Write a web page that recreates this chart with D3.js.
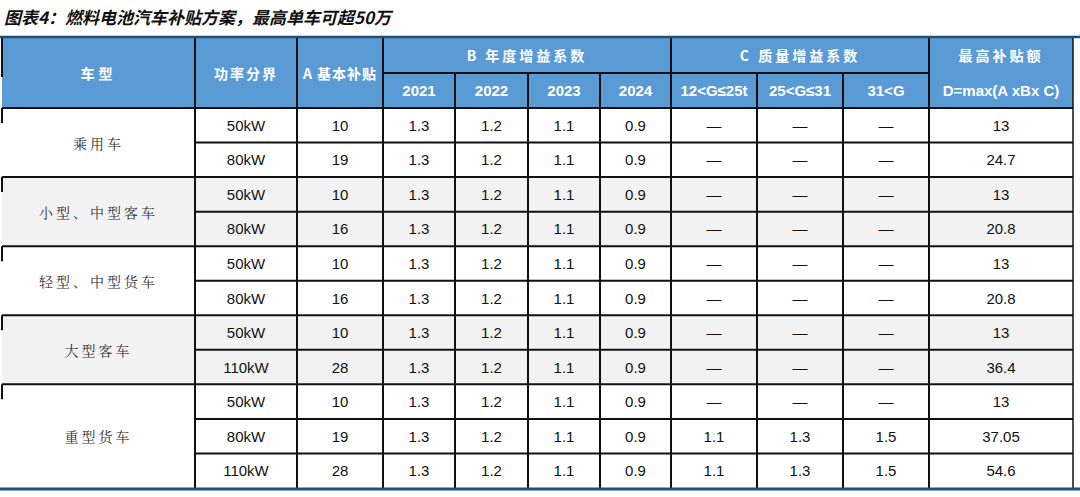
<!DOCTYPE html>
<html><head><meta charset="utf-8">
<script src="https://cdn.jsdelivr.net/npm/d3@7"></script>
<style>body{margin:0;background:#fff}svg{display:block}</style>
</head><body><svg id="c" width="1080" height="497"></svg>
<script>
const title = "图表4：燃料电池汽车补贴方案，最高单车可超50万";
const groups = ["乘用车","小型、中型客车","轻型、中型货车","大型客车","重型货车"];
const groupSizes = [2,2,2,2,3];
const power = ["50kW","80kW","50kW","80kW","50kW","80kW","50kW","110kW","50kW","80kW","110kW"];
const baseA = [10,19,10,16,10,16,10,28,10,19,28];
const years = ["2021","2022","2023","2024"];
const yearCoef = ["1.3","1.2","1.1","0.9"];
const massLabels = ["12<G≤25t","25<G≤31","31<G"];
const massCoef = [null,null,null,null,null,null,null,null,null,["1.1","1.3","1.5"],["1.1","1.3","1.5"]];
const maxD = ["13","24.7","13","20.8","13","20.8","13","36.4","13","37.05","54.6"];

(function(){
const svg = d3.select("#c");
const colEdges = [2,195,297,383,455,528,600,671,757,843,929,1073];
const x = i => colEdges[i];
const yTop = 37, h1 = 73, h2 = 108, bottom = 488;
const y = d3.scaleBand().domain(d3.range(power.length)).range([h2,bottom]);
const blue = "#5b9bd5", line = "#111";
const cjk = "'Noto Sans CJK SC', sans-serif", lat = "Arial, 'Liberation Sans', sans-serif";

svg.append("text").attr("x",4).attr("y",24).attr("font-family",cjk).attr("font-size",17)
  .attr("font-weight","bold").attr("font-style","italic").attr("fill","#111").text(title);

svg.append("rect").attr("x",x(0)).attr("y",yTop).attr("width",x(11)-x(0)).attr("height",h2-yTop).attr("fill",blue);
let start = 0;
const gStarts = groupSizes.map(s => {const r = start; start += s; return r;});
groups.forEach((g,gi)=>{
  const y0 = y(gStarts[gi]), y1 = y(gStarts[gi]+groupSizes[gi]-1)+y.bandwidth();
  svg.append("rect").attr("x",x(0)).attr("y",y0).attr("width",x(11)-x(0)).attr("height",y1-y0)
    .attr("fill", gi%2===1 ? "#f2f2f2" : "#fff");
});

function txt(cx,cy,t,opt={}){
  svg.append("text").attr("x",cx).attr("y",cy).attr("text-anchor","middle").attr("dominant-baseline","central")
    .attr("font-family",opt.f||lat).attr("font-size",opt.s||15).attr("font-weight",opt.w||"normal")
    .attr("fill",opt.c||"#111").attr("letter-spacing",opt.ls||0).text(t);
}
const hw = {c:"#fff",w:"bold"};
txt((x(0)+x(1))/2,(yTop+h2)/2,"车型",{...hw,f:cjk,s:14,ls:4});
txt((x(1)+x(2))/2,(yTop+h2)/2,"功率分界",{...hw,f:cjk,s:14,ls:2});
txt((x(2)+x(3))/2,(yTop+h2)/2,"A 基本补贴",{...hw,f:cjk,s:14,ls:1});
txt((x(3)+x(7))/2,(yTop+h1)/2,"B 年度增益系数",{...hw,f:cjk,s:14,ls:3});
txt((x(7)+x(10))/2,(yTop+h1)/2,"C 质量增益系数",{...hw,f:cjk,s:14,ls:3});
txt((x(10)+x(11))/2,(yTop+h1)/2,"最高补贴额",{...hw,f:cjk,s:14,ls:3});
txt((x(10)+x(11))/2,(h1+h2)/2,"D=max(A xBx C)",{...hw,s:15});
years.forEach((yy,i)=>txt((x(3+i)+x(4+i))/2,(h1+h2)/2,yy,{...hw,s:15}));
massLabels.forEach((m,i)=>txt((x(7+i)+x(8+i))/2,(h1+h2)/2,m,{...hw,s:15}));

power.forEach((p,r)=>{
  const cy = y(r)+y.bandwidth()/2;
  const vals = [p, baseA[r], ...yearCoef, ...(massCoef[r]||["—","—","—"]), maxD[r]];
  vals.forEach((v,i)=>txt((x(1+i)+x(2+i))/2, cy, v, {s:15}));
});
groups.forEach((g,gi)=>{
  const y0 = y(gStarts[gi]), y1 = y(gStarts[gi]+groupSizes[gi]-1)+y.bandwidth();
  txt((x(0)+x(1))/2,(y0+y1)/2,g,{f:"'Noto Serif CJK SC','Noto Sans CJK SC',serif",s:14,ls:3,c:"#333"});
});

const L = (x1,y1,x2,y2,c,w)=>svg.append("line").attr("x1",x1).attr("y1",y1).attr("x2",x2).attr("y2",y2).attr("stroke",c).attr("stroke-width",w);
L(x(3),h1,x(10),h1,line,2);
[1,2,3,7,10].forEach(i=>L(x(i),yTop,x(i),bottom,line,2));
[4,5,6,8,9].forEach(i=>L(x(i),h1,x(i),bottom,line,2));
L(x(11),yTop,x(11),bottom,line,1.5);
L(x(0),h2,x(11),h2,line,2);
d3.range(1,power.length).forEach(r=>{
  const isGroupStart = gStarts.includes(r);
  L(isGroupStart?x(0):x(1), y(r), x(11), y(r), line, 2);
});
L(x(0),yTop,x(0),yTop+40,line,2);
gStarts.forEach(s=>L(x(0),y(s),x(0),y(s)+15,line,2));
L(0,yTop,1080,yTop,"#1f4e79",2.5);
L(0,bottom+1,1080,bottom+1,"#1f4e79",3);
})();
</script></body></html>
